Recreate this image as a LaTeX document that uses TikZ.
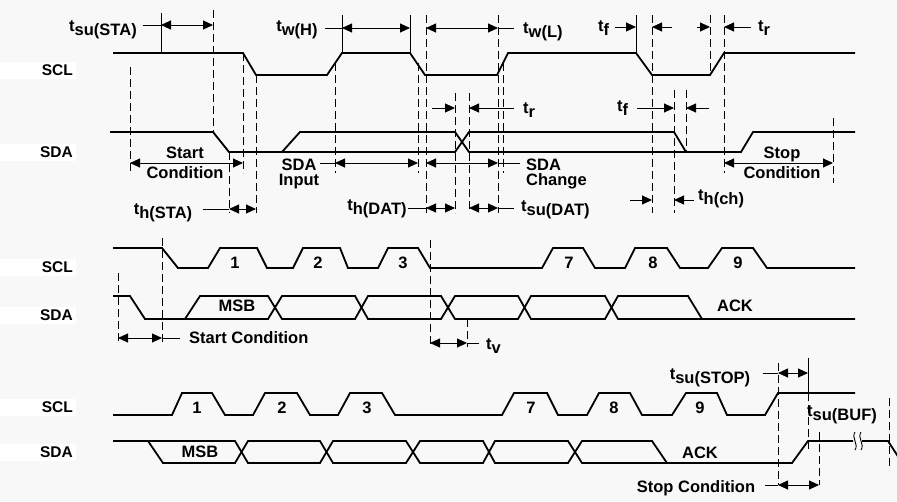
\documentclass[tikz,border=0pt]{standalone}
\usepackage{fontspec}
\setmainfont{Liberation Sans}
\usetikzlibrary{arrows.meta}
\definecolor{bgc}{RGB}{248,248,248}
\newcommand\tsub[1]{t\raisebox{-3.5pt}{#1}}

\tikzset{
  sig/.style={line width=1.8pt},
  guide/.style={line width=0.9pt, dash pattern=on 8pt off 4pt},
  lead/.style={line width=0.9pt},
  dim/.style={lead, {Triangle[length=10pt,width=9pt]}-{Triangle[length=10pt,width=9pt]}},
  arr/.style={lead, -{Triangle[length=10pt,width=9pt]}},
  lab/.style={font=\fontsize{16.5}{20}\selectfont\bfseries, inner sep=1pt},
  tight/.style={lab, font=\fontsize{16.5}{15}\selectfont\bfseries},
  sigl/.style={font=\fontsize{15.5}{17}\selectfont\bfseries, fill=white, anchor=east,
    text width=70pt, align=right, minimum height=17pt, inner xsep=3pt, inner ysep=1pt},
}

\begin{document}
\begin{tikzpicture}[x=1pt,y=-1pt]
\fill[bgc] (0,0) rectangle (897,501);
\useasboundingbox (0,0) rectangle (897,501);

% signal names
\node[sigl] (scla) at (76,70) {SCL};
\node[sigl] (sdaa) at (76,152) {SDA};
\node[sigl] (sclb) at (76,267) {SCL};
\node[sigl] (sdab) at (76,315) {SDA};
\node[sigl] (sclc) at (76,407) {SCL};
\node[sigl] (sdac) at (76,452) {SDA};

% ---- top: start / data / stop timing
\draw[sig] (113,53) -- (243,53) -- (256,75) -- (327,75) -- (342,53) -- (410,53) -- (425,75)
  -- (497,75) -- (508,53) -- (636,53) -- (652,75) -- (710,75) -- (724,53) -- (855,53);
\draw[sig] (110,132) -- (213,132) -- (229,152) -- (455,152) -- (469,132) -- (674,132)
  -- (686,152) -- (741,152) -- (753,132) -- (855,132);
\draw[sig] (282,152) -- (300,132) -- (455,132) -- (469,152) -- (686,152);

\draw[guide] (130,67) -- (130,173);
\draw[lead] (161,13) -- (161,53);
\draw[guide] (213,10) -- (213,132);
\draw[guide] (229,152) -- (229,213);
\draw[guide] (243,53) -- (243,173);
\draw[guide] (256,75) -- (256,213);
\draw[guide] (335,63) -- (335,173);
\draw[lead] (342,15) -- (342,53);
\draw[lead] (410,15) -- (410,53);
\draw[guide] (418,63) -- (418,173);
\draw[guide] (426,15) -- (426,213);
\draw[guide] (455,93) -- (455,213);
\draw[guide] (469,93) -- (469,213);
\draw[guide] (498,15) -- (498,213);
\draw[guide] (503,63) -- (503,173);
\draw[lead] (636,15) -- (636,53);
\draw[guide] (652,15) -- (652,213);
\draw[guide] (674,90) -- (674,213);
\draw[guide] (686,90) -- (686,152);
\draw[guide] (710,15) -- (710,75);
\draw[guide] (724,15) -- (724,173);
\draw[guide] (833,118) -- (833,183);

\node[lab] (tsusta) at (103,30) {\tsub{su(STA)}};
\coordinate (sta1) at (161,25); \coordinate (sta2) at (213,25);
\draw[lead, shorten <=5pt] (tsusta.east |- sta1) -- (sta1);
\draw[dim] (sta1) -- (sta2);

\node[lab] (twh) at (297,30) {\tsub{w(H)}};
\coordinate (twh1) at (342,28); \coordinate (twh2) at (410,28);
\draw[lead, shorten <=6pt] (twh.east |- twh1) -- (twh1);
\draw[dim] (twh1) -- (twh2);

\node[lab, anchor=west] (twl) at (522,32) {\tsub{w(L)}};
\coordinate (twl1) at (426,28); \coordinate (twl2) at (498,28);
\draw[dim] (twl1) -- (twl2);
\draw[lead, shorten >=8pt] (twl2) -- (twl.west |- twl2);

\node[lab, anchor=west] (tfa) at (597,28) {\tsub{f}};
\coordinate (tfa1) at (636,27); \coordinate (tfa2) at (652,27); \coordinate (tfa3) at (672,27);
\draw[arr, shorten <=5pt] (tfa.east |- tfa1) -- (tfa1);
\draw[arr] (tfa3) -- (tfa2);

\node[lab, anchor=west] (tra) at (757,28) {\tsub{r}};
\coordinate (tra1) at (697,27); \coordinate (tra2) at (710,27); \coordinate (tra3) at (724,27);
\draw[arr] (tra1) -- (tra2);
\draw[arr, shorten <=6pt] (tra.west |- tra3) -- (tra3);

\node[lab, anchor=west] (trb) at (522,110) {\tsub{r}};
\coordinate (trb1) at (432,108); \coordinate (trb2) at (455,108); \coordinate (trb3) at (469,108);
\draw[arr] (trb1) -- (trb2);
\draw[arr, shorten <=8pt] (trb.west |- trb3) -- (trb3);

\node[lab, anchor=west] (tfb) at (616,108) {\tsub{f}};
\coordinate (tfb1) at (674,108); \coordinate (tfb2) at (686,108); \coordinate (tfb3) at (709,108);
\draw[arr, shorten <=8pt] (tfb.east |- tfb1) -- (tfb1);
\draw[arr] (tfb3) -- (tfb2);

\node[lab, align=center] (stca) at (185,163) {Start\\Condition};
\coordinate (stca1) at (130,163); \coordinate (stca2) at (243,163);
\draw[dim] (stca1) -- (stca2);

\node[tight, align=center] (sdain) at (299,174) {SDA\\Input};
\coordinate (sin1) at (335,163); \coordinate (sin2) at (418,163);
\draw[lead] (sdain.east |- sin1) -- (sin1);
\draw[dim] (sin1) -- (sin2);

\node[tight, align=left, anchor=west] (sdach) at (525,174) {SDA\\Change};
\coordinate (sch1) at (426,163); \coordinate (sch2) at (498,163);
\draw[dim] (sch1) -- (sch2);
\draw[lead, shorten >=5pt] (sch2) -- (sdach.west |- sch2);

\node[lab] (thsta) at (163,213) {\tsub{h(STA)}};
\coordinate (ths1) at (229,209); \coordinate (ths2) at (256,209);
\draw[lead, shorten <=10pt] (thsta.east |- ths1) -- (ths1);
\draw[dim] (ths1) -- (ths2);

\node[lab] (thdat) at (377,209) {\tsub{h(DAT)}};
\coordinate (thd1) at (426,208); \coordinate (thd2) at (455,208);
\draw[lead] (thdat.east |- thd1) -- (thd1);
\draw[dim] (thd1) -- (thd2);

\node[lab, anchor=west] (tsudat) at (520,210) {\tsub{su(DAT)}};
\coordinate (tsd1) at (469,208); \coordinate (tsd2) at (498,208);
\draw[dim] (tsd1) -- (tsd2);
\draw[lead, shorten >=6pt] (tsd2) -- (tsudat.west |- tsd2);

\node[lab, anchor=west] (thch) at (697,199) {\tsub{h(ch)}};
\coordinate (thc0) at (630,200); \coordinate (thc1) at (652,200); \coordinate (thc2) at (674,200);
\draw[arr] (thc0) -- (thc1);
\draw[arr, shorten <=3pt] (thch.west |- thc2) -- (thc2);

\node[lab, align=center] (stopa) at (782,163) {Stop\\Condition};
\coordinate (spa1) at (724,163); \coordinate (spa2) at (833,163);
\draw[dim] (spa1) -- (spa2);

% ---- middle: first byte
\draw[sig] (113,248) -- (162,248) -- (178,268) -- (208,268) -- (220,248) -- (257,248) -- (267,268)
  -- (293,268) -- (303,248) -- (340,248) -- (348,268) -- (378,268) -- (388,248) -- (418,248)
  -- (430,268) -- (542,268) -- (553,248) -- (583,248) -- (595,268) -- (625,268) -- (635,248)
  -- (667,248) -- (680,268) -- (708,268) -- (722,248) -- (753,248) -- (767,268) -- (855,268);
\draw[sig] (113,296) -- (130,296) -- (145,319) -- (268,319) -- (282,296) -- (355,296) -- (368,319)
  -- (441,319) -- (455,296) -- (518,296) -- (531,319) -- (605,319) -- (618,296) -- (688,296)
  -- (702,319) -- (855,319);
\draw[sig] (185,319) -- (200,296) -- (268,296) -- (282,319) -- (355,319) -- (368,296) -- (441,296)
  -- (455,319) -- (518,319) -- (531,296) -- (605,296) -- (618,319) -- (702,319);

\node[lab] (b1) at (235,263) {1};
\node[lab] (b2) at (318,263) {2};
\node[lab] (b3) at (403,263) {3};
\node[lab] (b7) at (569,263) {7};
\node[lab] (b8) at (653,263) {8};
\node[lab] (b9) at (738,263) {9};
\node[lab] (msbb) at (237,306) {MSB};
\node[lab] (ackb) at (735,306) {ACK};

\draw[guide] (118,273) -- (118,343);
\draw[guide] (162,238) -- (162,343);
\draw[guide] (430,240) -- (430,347);
\draw[guide] (467,319) -- (467,347);

\node[lab, anchor=west] (stcb) at (188,338) {Start Condition};
\coordinate (stb1) at (118,338); \coordinate (stb2) at (162,338);
\draw[dim] (stb1) -- (stb2);
\draw[lead, shorten >=8pt] (stb2) -- (stcb.west |- stb2);

\node[lab, anchor=west] (tv) at (485,346) {\tsub{v}};
\coordinate (tv1) at (430,343); \coordinate (tv2) at (467,343);
\draw[dim] (tv1) -- (tv2);
\draw[lead, shorten >=6pt] (tv2) -- (tv.west |- tv2);

% ---- bottom: last byte and stop
\draw[sig] (113,415) -- (172,415) -- (182,393) -- (212,393) -- (225,415) -- (253,415) -- (265,393)
  -- (297,393) -- (310,415) -- (338,415) -- (350,393) -- (382,393) -- (395,415) -- (502,415)
  -- (514,393) -- (547,393) -- (558,415) -- (587,415) -- (599,393) -- (630,393) -- (642,415)
  -- (672,415) -- (686,393) -- (717,393) -- (727,415) -- (765,415) -- (778,393) -- (855,393);
\draw[sig] (113,441) -- (235,441) -- (248,463) -- (320,463) -- (333,441) -- (406,441) -- (420,463)
  -- (483,463) -- (495,441) -- (568,441) -- (582,463) -- (792,463) -- (808,441) -- (853,441);
\draw[sig] (148,441) -- (163,463) -- (235,463) -- (248,441) -- (320,441) -- (333,463) -- (406,463)
  -- (420,441) -- (483,441) -- (495,463) -- (568,463) -- (582,441) -- (652,441) -- (667,463);
\draw[sig] (862,441) -- (888,441) -- (899,458);
\draw[lead] (855,432) .. controls (851,438) and (859,444) .. (855,450);
\draw[lead] (861,432) .. controls (857,438) and (865,444) .. (861,450);

\node[lab] (c1) at (197,408) {1};
\node[lab] (c2) at (282,408) {2};
\node[lab] (c3) at (367,408) {3};
\node[lab] (c7) at (531,408) {7};
\node[lab] (c8) at (614,408) {8};
\node[lab] (c9) at (700,408) {9};
\node[lab] (msbc) at (200,452) {MSB};
\node[lab] (ackc) at (700,453) {ACK};

\draw[guide] (778,363) -- (778,485);
\draw[lead] (808,358) -- (808,393);
\draw[guide] (808,393) -- (808,450);
\draw[guide] (819,432) -- (819,485);
\draw[guide] (889,398) -- (889,470);

\node[lab] (tsustop) at (710,378) {\tsub{su(STOP)}};
\coordinate (tst1) at (778,373); \coordinate (tst2) at (808,373);
\draw[lead, shorten <=12pt] (tsustop.east |- tst1) -- (tst1);
\draw[dim] (tst1) -- (tst2);

\node[lab, anchor=west] (tsubuf) at (806,415) {\tsub{su(BUF)}};

\node[lab] (stopc) at (696,488) {Stop Condition};
\coordinate (spc1) at (778,485); \coordinate (spc2) at (819,485);
\draw[lead, shorten <=9pt] (stopc.east |- spc1) -- (spc1);
\draw[dim] (spc1) -- (spc2);
\end{tikzpicture}
\end{document}
